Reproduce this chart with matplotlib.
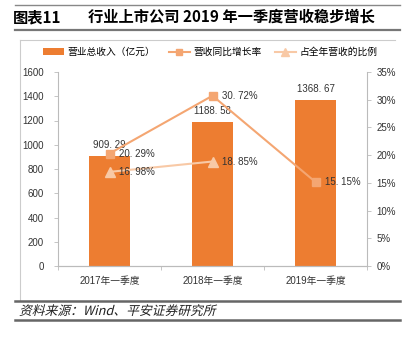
import matplotlib
matplotlib.use("Agg")
import matplotlib.pyplot as plt
from matplotlib.lines import Line2D
from matplotlib.textpath import TextPath
from matplotlib.patches import PathPatch
from matplotlib.font_manager import FontProperties
from matplotlib.transforms import Affine2D
import numpy as np

plt.rcParams['font.family'] = ['Liberation Sans', 'Noto Sans CJK SC', 'DejaVu Sans']

categories = ["2017年一季度", "2018年一季度", "2019年一季度"]
revenue = [909.29, 1188.58, 1368.67]
growth = [20.29, 30.72, 15.15]
share = [16.98, 18.85]

bar_color = "#ED7D31"
growth_color = "#F4A672"
share_color = "#F8C9A6"

fig = plt.figure(figsize=(4.11, 3.42), dpi=100)
W, H = 411, 342

# title block lines
fig.add_artist(Line2D([15 / W, 400 / W], [1 - 5 / H, 1 - 5 / H], color="#888888", lw=1.0))
fig.add_artist(Line2D([15 / W, 400 / W], [1 - 30 / H, 1 - 30 / H], color="#777777", lw=1.6))
fig.text(13 / W, 1 - 17 / H, "图表11", fontsize=11, fontweight="bold", va="center",
         family=["Noto Sans CJK SC"])
fig.text(88 / W, 1 - 17 / H, "行业上市公司 2019 年一季度营收稳步增长", fontsize=11,
         fontweight="bold", va="center", family=["Noto Sans CJK SC"])

# chart frame
fig.add_artist(Line2D([20 / W, 20 / W], [1 - 40 / H, 1 - 300 / H], color="#cccccc", lw=0.8))
fig.add_artist(Line2D([20 / W, 395 / W], [1 - 40 / H, 1 - 40 / H], color="#cccccc", lw=0.8))

# bottom source lines
fig.add_artist(Line2D([15 / W, 400 / W], [1 - 301 / H, 1 - 301 / H], color="#666666", lw=1.8))
fig.add_artist(Line2D([15 / W, 400 / W], [1 - 320 / H, 1 - 320 / H], color="#666666", lw=1.8))

# source note, slanted like the original
src_path = TextPath((0, 0), "资料来源：Wind、平安证券研究所", size=9.2,
                    prop=FontProperties(family="Noto Sans CJK SC"))
src_tr = Affine2D().skew_deg(14, 0).scale(1 / 72).translate(19 / 100, (H - 315) / 100)
fig.add_artist(PathPatch(src_path, transform=src_tr + fig.dpi_scale_trans,
                         facecolor="#222222", edgecolor="none"))

ax = fig.add_axes([58 / W, 1 - 266 / H, (367 - 58) / W, (266 - 72) / H])
x = np.arange(len(categories))
ax.bar(x, revenue, width=0.4, color=bar_color, label="营业总收入（亿元）", zorder=2)
ax.set_xlim(-0.5, 2.5)
ax.set_ylim(0, 1600)
ax.set_yticks(np.arange(0, 1601, 200))
ax.set_xticks(x)
ax.set_xticklabels(categories)
for i, v in enumerate(revenue):
    ax.text(x[i], v + 90, f"{v:.2f}".replace(".", ". "), ha="center", va="center",
            fontsize=7, color="#333333")

ax2 = ax.twinx()
ax2.plot(x, growth, color=growth_color, marker="s", markersize=6, lw=1.5,
         label="营收同比增长率", zorder=3)
ax2.plot(x[:len(share)], share, color=share_color, marker="^", markersize=6.5, lw=1.5,
         label="占全年营收的比例", zorder=3)
ax2.set_ylim(0, 35)
ax2.set_yticks(np.arange(0, 36, 5))
ax2.set_yticklabels([f"{t}%" for t in range(0, 36, 5)])
for i, v in enumerate(growth):
    ax2.text(x[i] + 0.09, v, f"{v:.2f}%".replace(".", ". "), ha="left", va="center",
             fontsize=7, color="#333333")
for i, v in enumerate(share):
    ax2.text(x[i] + 0.09, v, f"{v:.2f}%".replace(".", ". "), ha="left", va="center",
             fontsize=7, color="#333333")

for a in (ax, ax2):
    a.spines["top"].set_visible(False)
    a.tick_params(labelsize=7, colors="#333333", length=3, width=0.6)
    for s in a.spines.values():
        s.set_color("#bbbbbb")
        s.set_linewidth(0.8)
ax.spines["right"].set_visible(False)
ax2.spines["left"].set_visible(False)
ax.set_xticks([-0.5, 0.5, 1.5, 2.5], minor=True)
ax.tick_params(axis="x", which="major", length=0, pad=7)
ax.tick_params(axis="x", which="minor", length=3, color="#bbbbbb")
ax.tick_params(axis="y", color="#bbbbbb", pad=7)
ax2.tick_params(axis="y", color="#bbbbbb", pad=4)

h1, l1 = ax.get_legend_handles_labels()
h2, l2 = ax2.get_legend_handles_labels()
fig.legend(h1 + h2, l1 + l2, loc="center", bbox_to_anchor=(210 / W, 1 - 52 / H), ncol=3,
           frameon=False, fontsize=7, handlelength=2.2, columnspacing=1.4,
           handletextpad=0.3, borderaxespad=0, markerscale=0.8)

fig.savefig("out.png", dpi=100)
